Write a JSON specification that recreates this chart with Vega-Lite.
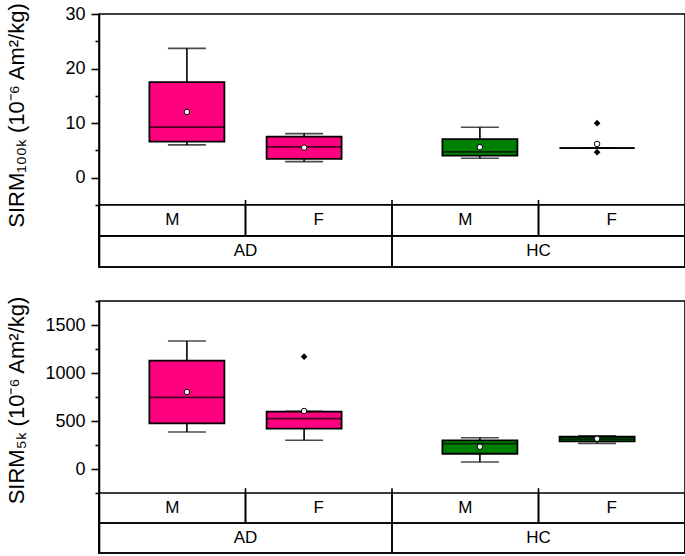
{
  "$schema": "https://vega.github.io/schema/vega-lite/v6.json",
  "background": "white",
  "padding": {"left": 4, "top": 1, "right": 0, "bottom": 0},
  "bounds": "flush",
  "spacing": 34,
  "config": {
    "view": {"stroke": "black", "strokeWidth": 1.6},
    "font": "Liberation Sans",
    "axis": {
      "domainColor": "black", "domainWidth": 1.6, "tickColor": "black", "tickWidth": 1.6,
      "labelColor": "black", "labelFontSize": 18, "labelFont": "Liberation Sans",
      "titleFont": "Liberation Sans", "titleFontSize": 22, "titleFontWeight": "normal", "titleColor": "black",
      "grid": false, "labelFlush": false, "labelOverlap": false, "labelPadding": 6, "offset": 0
    }
  },
  "datasets": {
    "boxes": [
      {"panel": "top", "grp": "AD", "sex": "M", "x": 1, "lo": 5.99, "q1": 6.6, "med": 9.24, "q3": 17.5, "hi": 23.7, "mean": 12.04},
      {"panel": "top", "grp": "AD", "sex": "F", "x": 2, "lo": 2.93, "q1": 3.43, "med": 5.63, "q3": 7.51, "hi": 8.07, "mean": 5.5},
      {"panel": "top", "grp": "HC", "sex": "M", "x": 3.5, "lo": 3.55, "q1": 4.03, "med": 4.71, "q3": 7.04, "hi": 9.24, "mean": 5.57},
      {"panel": "top", "grp": "HC", "sex": "F", "x": 4.5, "lo": 5.39, "q1": 5.39, "med": 5.39, "q3": 5.39, "hi": 5.39, "mean": 6.17},
      {"panel": "bot", "grp": "AD", "sex": "M", "x": 1, "lo": 385, "q1": 476, "med": 747, "q3": 1128, "hi": 1333, "mean": 802},
      {"panel": "bot", "grp": "AD", "sex": "F", "x": 2, "lo": 299, "q1": 420, "med": 524, "q3": 597, "hi": 600, "mean": 604},
      {"panel": "bot", "grp": "HC", "sex": "M", "x": 3.5, "lo": 73, "q1": 159, "med": 264, "q3": 299, "hi": 326, "mean": 232},
      {"panel": "bot", "grp": "HC", "sex": "F", "x": 4.5, "lo": 267, "q1": 288, "med": 312, "q3": 336, "hi": 347, "mean": 315}
    ],
    "outliers": [
      {"panel": "top", "grp": "HC", "sex": "F", "x": 4.5, "v": 9.97},
      {"panel": "top", "grp": "HC", "sex": "F", "x": 4.5, "v": 4.65},
      {"panel": "bot", "grp": "AD", "sex": "F", "x": 2, "v": 1170}
    ],
    "cells": [
      {"panel": "top", "label": "M", "x0": 0.25, "x1": 1.5, "y0": -10.7, "y1": -5},
      {"panel": "top", "label": "F", "x0": 1.5, "x1": 2.75, "y0": -10.7, "y1": -5},
      {"panel": "top", "label": "M", "x0": 2.75, "x1": 4.0, "y0": -10.7, "y1": -5},
      {"panel": "top", "label": "F", "x0": 4.0, "x1": 5.25, "y0": -10.7, "y1": -5},
      {"panel": "top", "label": "AD", "x0": 0.25, "x1": 2.75, "y0": -16.4, "y1": -10.7},
      {"panel": "top", "label": "HC", "x0": 2.75, "x1": 5.25, "y0": -16.4, "y1": -10.7},
      {"panel": "bot", "label": "M", "x0": 0.25, "x1": 1.5, "y0": -562.5, "y1": -250},
      {"panel": "bot", "label": "F", "x0": 1.5, "x1": 2.75, "y0": -562.5, "y1": -250},
      {"panel": "bot", "label": "M", "x0": 2.75, "x1": 4.0, "y0": -562.5, "y1": -250},
      {"panel": "bot", "label": "F", "x0": 4.0, "x1": 5.25, "y0": -562.5, "y1": -250},
      {"panel": "bot", "label": "AD", "x0": 0.25, "x1": 2.75, "y0": -875, "y1": -562.5},
      {"panel": "bot", "label": "HC", "x0": 2.75, "x1": 5.25, "y0": -875, "y1": -562.5}
    ],
    "bticks": [
      {"panel": "top", "x": 1.5, "y0": -5, "y1": -4.1},
      {"panel": "top", "x": 2.75, "y0": -5, "y1": -4.1},
      {"panel": "top", "x": 4.0, "y0": -5, "y1": -4.1},
      {"panel": "bot", "x": 1.5, "y0": -250, "y1": -200},
      {"panel": "bot", "x": 2.75, "y0": -250, "y1": -200},
      {"panel": "bot", "x": 4.0, "y0": -250, "y1": -200}
    ]
  },
  "vconcat": [
    {
      "width": 586, "height": 253,
      "resolve": {"axis": {"y": "independent"}},
      "layer": [
        {
          "layer": [
            {
              "data": {"name": "cells"},
              "transform": [{"filter": "datum.panel === 'top'"}],
              "mark": {"type": "rect", "filled": false, "stroke": "black", "strokeWidth": 1.6},
              "encoding": {
                "x": {"field": "x0", "type": "quantitative", "scale": {"domain": [0.25, 5.25], "nice": false, "zero": false, "padding": 0}, "axis": null},
                "x2": {"field": "x1"},
                "y": {"field": "y0", "type": "quantitative", "scale": {"domain": [-16.4, 30], "nice": false, "zero": false, "padding": 0},
                  "title": "SIRM₁₀₀ₖ (10⁻⁶ Am²/kg)",
                  "axis": {"values": [0, 10, 20, 30], "tickSize": 8, "orient": "left", "offset": 0, "format": "d",
                    "titleX": -83, "titleY": 101, "titleBaseline": "middle"}},
                "y2": {"field": "y1"}
              }
            },
            {
              "data": {"name": "cells"},
              "transform": [{"filter": "datum.panel === 'top'"}, {"calculate": "(datum.x0 + datum.x1) / 2", "as": "xm"}, {"calculate": "(datum.y0 + datum.y1) / 2", "as": "ym"}],
              "mark": {"type": "text", "fontSize": 17, "color": "black", "baseline": "middle", "align": "center"},
              "encoding": {
                "x": {"field": "xm", "type": "quantitative", "axis": null},
                "y": {"field": "ym", "type": "quantitative", "title": "SIRM₁₀₀ₖ (10⁻⁶ Am²/kg)"},
                "text": {"field": "label"}
              }
            },
            {
              "data": {"name": "boxes"},
              "transform": [{"filter": "datum.panel === 'top'"}],
              "mark": {"type": "rule", "color": "black", "strokeWidth": 1.6},
              "encoding": {
                "x": {"field": "x", "type": "quantitative", "axis": null},
                "y": {"field": "lo", "type": "quantitative", "title": "SIRM₁₀₀ₖ (10⁻⁶ Am²/kg)"},
                "y2": {"field": "hi"}
              }
            },
            {
              "data": {"name": "boxes"},
              "transform": [{"filter": "datum.panel === 'top'"}],
              "mark": {"type": "tick", "orient": "horizontal", "size": 38, "thickness": 1.6, "color": "black"},
              "encoding": {
                "x": {"field": "x", "type": "quantitative", "axis": null},
                "y": {"field": "lo", "type": "quantitative", "title": "SIRM₁₀₀ₖ (10⁻⁶ Am²/kg)"}
              }
            },
            {
              "data": {"name": "boxes"},
              "transform": [{"filter": "datum.panel === 'top'"}],
              "mark": {"type": "tick", "orient": "horizontal", "size": 38, "thickness": 1.6, "color": "black"},
              "encoding": {
                "x": {"field": "x", "type": "quantitative", "axis": null},
                "y": {"field": "hi", "type": "quantitative", "title": "SIRM₁₀₀ₖ (10⁻⁶ Am²/kg)"}
              }
            },
            {
              "data": {"name": "boxes"},
              "transform": [{"filter": "datum.panel === 'top'"}],
              "mark": {"type": "bar", "orient": "vertical", "width": 75, "stroke": "black", "strokeWidth": 1.8, "opacity": 1},
              "encoding": {
                "x": {"field": "x", "type": "quantitative", "axis": null},
                "y": {"field": "q1", "type": "quantitative", "title": "SIRM₁₀₀ₖ (10⁻⁶ Am²/kg)"},
                "y2": {"field": "q3"},
                "fill": {"field": "grp", "type": "nominal", "scale": {"domain": ["AD", "HC"], "range": ["#FF0080", "#008000"]}, "legend": null}
              }
            },
            {
              "data": {"name": "boxes"},
              "transform": [{"filter": "datum.panel === 'top'"}],
              "mark": {"type": "tick", "orient": "horizontal", "size": 75, "thickness": 1.8, "color": "black"},
              "encoding": {
                "x": {"field": "x", "type": "quantitative", "axis": null},
                "y": {"field": "med", "type": "quantitative", "title": "SIRM₁₀₀ₖ (10⁻⁶ Am²/kg)"}
              }
            },
            {
              "data": {"name": "outliers"},
              "transform": [{"filter": "datum.panel === 'top'"}],
              "mark": {"type": "point", "shape": "diamond", "filled": true, "color": "black", "size": 45, "opacity": 1},
              "encoding": {
                "x": {"field": "x", "type": "quantitative", "axis": null},
                "y": {"field": "v", "type": "quantitative", "title": "SIRM₁₀₀ₖ (10⁻⁶ Am²/kg)"}
              }
            },
            {
              "data": {"name": "boxes"},
              "transform": [{"filter": "datum.panel === 'top'"}],
              "mark": {"type": "point", "shape": "circle", "filled": true, "fill": "white", "stroke": "black", "strokeWidth": 1, "size": 30, "opacity": 1},
              "encoding": {
                "x": {"field": "x", "type": "quantitative", "axis": null},
                "y": {"field": "mean", "type": "quantitative", "title": "SIRM₁₀₀ₖ (10⁻⁶ Am²/kg)"}
              }
            }
          ]
        },
        {
          "data": {"name": "bticks"},
          "transform": [{"filter": "datum.panel === 'top'"}],
          "mark": {"type": "rule", "color": "black", "strokeWidth": 1.6},
          "encoding": {
            "x": {"field": "x", "type": "quantitative", "axis": null},
            "y": {"field": "y0", "type": "quantitative", "title": null,
              "axis": {"orient": "left", "offset": 0, "values": [-5, 5, 15, 25], "tickSize": 4, "labels": false, "domain": false}},
            "y2": {"field": "y1"}
          }
        }
      ]
    },
    {
      "width": 586, "height": 252,
      "resolve": {"axis": {"y": "independent"}},
      "layer": [
        {
          "layer": [
            {
              "data": {"name": "cells"},
              "transform": [{"filter": "datum.panel === 'bot'"}],
              "mark": {"type": "rect", "filled": false, "stroke": "black", "strokeWidth": 1.6},
              "encoding": {
                "x": {"field": "x0", "type": "quantitative", "scale": {"domain": [0.25, 5.25], "nice": false, "zero": false, "padding": 0}, "axis": null},
                "x2": {"field": "x1"},
                "y": {"field": "y0", "type": "quantitative", "scale": {"domain": [-875, 1750], "nice": false, "zero": false, "padding": 0},
                  "title": "SIRM₅ₖ (10⁻⁶ Am²/kg)",
                  "axis": {"values": [0, 500, 1000, 1500], "tickSize": 8, "orient": "left", "offset": 0, "format": "d",
                    "titleX": -83, "titleY": 99, "titleBaseline": "middle"}},
                "y2": {"field": "y1"}
              }
            },
            {
              "data": {"name": "cells"},
              "transform": [{"filter": "datum.panel === 'bot'"}, {"calculate": "(datum.x0 + datum.x1) / 2", "as": "xm"}, {"calculate": "(datum.y0 + datum.y1) / 2", "as": "ym"}],
              "mark": {"type": "text", "fontSize": 17, "color": "black", "baseline": "middle", "align": "center"},
              "encoding": {
                "x": {"field": "xm", "type": "quantitative", "axis": null},
                "y": {"field": "ym", "type": "quantitative", "title": "SIRM₅ₖ (10⁻⁶ Am²/kg)"},
                "text": {"field": "label"}
              }
            },
            {
              "data": {"name": "boxes"},
              "transform": [{"filter": "datum.panel === 'bot'"}],
              "mark": {"type": "rule", "color": "black", "strokeWidth": 1.6},
              "encoding": {
                "x": {"field": "x", "type": "quantitative", "axis": null},
                "y": {"field": "lo", "type": "quantitative", "title": "SIRM₅ₖ (10⁻⁶ Am²/kg)"},
                "y2": {"field": "hi"}
              }
            },
            {
              "data": {"name": "boxes"},
              "transform": [{"filter": "datum.panel === 'bot'"}],
              "mark": {"type": "tick", "orient": "horizontal", "size": 38, "thickness": 1.6, "color": "black"},
              "encoding": {
                "x": {"field": "x", "type": "quantitative", "axis": null},
                "y": {"field": "lo", "type": "quantitative", "title": "SIRM₅ₖ (10⁻⁶ Am²/kg)"}
              }
            },
            {
              "data": {"name": "boxes"},
              "transform": [{"filter": "datum.panel === 'bot'"}],
              "mark": {"type": "tick", "orient": "horizontal", "size": 38, "thickness": 1.6, "color": "black"},
              "encoding": {
                "x": {"field": "x", "type": "quantitative", "axis": null},
                "y": {"field": "hi", "type": "quantitative", "title": "SIRM₅ₖ (10⁻⁶ Am²/kg)"}
              }
            },
            {
              "data": {"name": "boxes"},
              "transform": [{"filter": "datum.panel === 'bot'"}],
              "mark": {"type": "bar", "orient": "vertical", "width": 75, "stroke": "black", "strokeWidth": 1.8, "opacity": 1},
              "encoding": {
                "x": {"field": "x", "type": "quantitative", "axis": null},
                "y": {"field": "q1", "type": "quantitative", "title": "SIRM₅ₖ (10⁻⁶ Am²/kg)"},
                "y2": {"field": "q3"},
                "fill": {"field": "grp", "type": "nominal", "scale": {"domain": ["AD", "HC"], "range": ["#FF0080", "#008000"]}, "legend": null}
              }
            },
            {
              "data": {"name": "boxes"},
              "transform": [{"filter": "datum.panel === 'bot'"}],
              "mark": {"type": "tick", "orient": "horizontal", "size": 75, "thickness": 1.8, "color": "black"},
              "encoding": {
                "x": {"field": "x", "type": "quantitative", "axis": null},
                "y": {"field": "med", "type": "quantitative", "title": "SIRM₅ₖ (10⁻⁶ Am²/kg)"}
              }
            },
            {
              "data": {"name": "outliers"},
              "transform": [{"filter": "datum.panel === 'bot'"}],
              "mark": {"type": "point", "shape": "diamond", "filled": true, "color": "black", "size": 45, "opacity": 1},
              "encoding": {
                "x": {"field": "x", "type": "quantitative", "axis": null},
                "y": {"field": "v", "type": "quantitative", "title": "SIRM₅ₖ (10⁻⁶ Am²/kg)"}
              }
            },
            {
              "data": {"name": "boxes"},
              "transform": [{"filter": "datum.panel === 'bot'"}],
              "mark": {"type": "point", "shape": "circle", "filled": true, "fill": "white", "stroke": "black", "strokeWidth": 1, "size": 30, "opacity": 1},
              "encoding": {
                "x": {"field": "x", "type": "quantitative", "axis": null},
                "y": {"field": "mean", "type": "quantitative", "title": "SIRM₅ₖ (10⁻⁶ Am²/kg)"}
              }
            }
          ]
        },
        {
          "data": {"name": "bticks"},
          "transform": [{"filter": "datum.panel === 'bot'"}],
          "mark": {"type": "rule", "color": "black", "strokeWidth": 1.6},
          "encoding": {
            "x": {"field": "x", "type": "quantitative", "axis": null},
            "y": {"field": "y0", "type": "quantitative", "title": null,
              "axis": {"orient": "left", "offset": 0, "values": [-250, 250, 750, 1250, 1750], "tickSize": 4, "labels": false, "domain": false}},
            "y2": {"field": "y1"}
          }
        }
      ]
    }
  ]
}
